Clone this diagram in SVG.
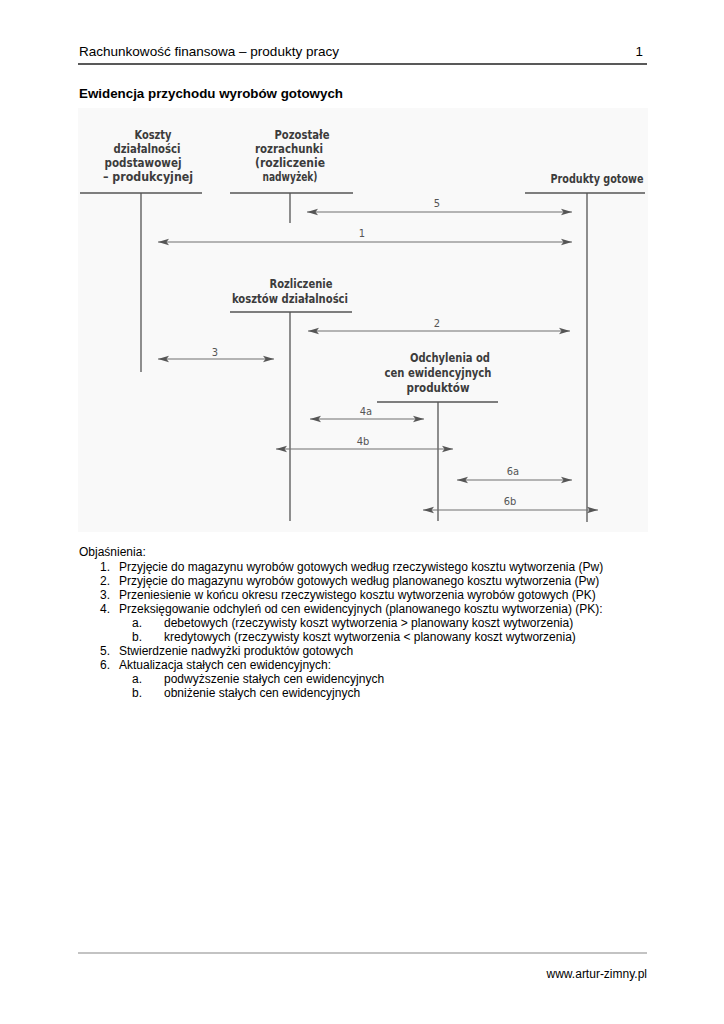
<svg xmlns="http://www.w3.org/2000/svg" width="724" height="1024" viewBox="0 0 724 1024">
<defs>
<style>
.hdr{font-family:"Liberation Sans",Arial,sans-serif;font-size:13.4px;fill:#000}
.ttl{font-family:"Liberation Sans",Arial,sans-serif;font-size:13.3px;font-weight:bold;fill:#000}
.txt{font-family:"Liberation Sans",Arial,sans-serif;font-size:12px;fill:#000}
.lbl{font-family:"Liberation Sans Narrow","DejaVu Sans Condensed","Liberation Sans",sans-serif;font-size:12.5px;font-weight:bold;fill:#3c3c3c;text-anchor:middle}
.num{font-family:"Liberation Sans Narrow","DejaVu Sans Condensed","Liberation Sans",sans-serif;font-size:11px;fill:#555;text-anchor:middle}
.acc{stroke:#555;stroke-width:1.3;fill:none}
.arr{stroke:#707070;stroke-width:1.2;fill:none;marker-start:url(#ah);marker-end:url(#ah)}
</style>
<marker id="ah" markerUnits="userSpaceOnUse" markerWidth="12" markerHeight="8" refX="11" refY="4" orient="auto-start-reverse">
<path d="M0,0.8 L11,4 L0,7.2 L2.5,4 Z" fill="#555"/>
</marker>
</defs>
<rect width="724" height="1024" fill="#fff"/>
<g id="header">
<text class="hdr" x="79" y="56" textLength="260" lengthAdjust="spacingAndGlyphs">Rachunkowość finansowa – produkty pracy</text>
<text class="hdr" x="643" y="56" text-anchor="end">1</text>
<line x1="78" y1="64" x2="647" y2="64" stroke="#222" stroke-width="1.5"/>
<text class="ttl" x="79" y="98" textLength="264" lengthAdjust="spacingAndGlyphs">Ewidencja przychodu wyrobów gotowych</text>
</g>
<rect id="scan-bg" x="78" y="108" width="570" height="424" fill="#f9f9f9"/>
<g id="koszty">
<text class="lbl" x="153" y="139" textLength="37" lengthAdjust="spacingAndGlyphs">Koszty</text>
<text class="lbl" x="147" y="153" textLength="67" lengthAdjust="spacingAndGlyphs">działalności</text>
<text class="lbl" x="143" y="167" textLength="77" lengthAdjust="spacingAndGlyphs">podstawowej</text>
<text class="lbl" x="148" y="181" textLength="90" lengthAdjust="spacingAndGlyphs">– produkcyjnej</text>
<path class="acc" d="M80,193 H202 M141,193 V372"/>
</g>
<g id="pozostale">
<text class="lbl" x="302" y="139" textLength="55" lengthAdjust="spacingAndGlyphs">Pozostałe</text>
<text class="lbl" x="289" y="153" textLength="68" lengthAdjust="spacingAndGlyphs">rozrachunki</text>
<text class="lbl" x="290" y="167" textLength="70" lengthAdjust="spacingAndGlyphs">(rozliczenie</text>
<text class="lbl" x="290" y="181" textLength="55" lengthAdjust="spacingAndGlyphs">nadwyżek)</text>
<path class="acc" d="M230,193 H353 M290,193 V223"/>
</g>
<g id="produkty">
<text class="lbl" x="597" y="183" textLength="93" lengthAdjust="spacingAndGlyphs">Produkty gotowe</text>
<path class="acc" d="M525,193 H645 M587,193 V522"/>
</g>
<g id="rozliczenie">
<text class="lbl" x="301" y="288" textLength="63" lengthAdjust="spacingAndGlyphs">Rozliczenie</text>
<text class="lbl" x="290" y="303" textLength="116" lengthAdjust="spacingAndGlyphs">kosztów działalności</text>
<path class="acc" d="M230,312 H352 M290,312 V521"/>
</g>
<g id="odchylenia">
<text class="lbl" x="450" y="362" textLength="80" lengthAdjust="spacingAndGlyphs">Odchylenia od</text>
<text class="lbl" x="438" y="377" textLength="107" lengthAdjust="spacingAndGlyphs">cen ewidencyjnych</text>
<text class="lbl" x="438" y="392" textLength="63" lengthAdjust="spacingAndGlyphs">produktów</text>
<path class="acc" d="M377,402 H498 M438,402 V521"/>
</g>
<g id="connectors">
<line class="arr" x1="307" y1="212" x2="572" y2="212"/>
<text class="num" x="437" y="207">5</text>
<line class="arr" x1="158" y1="242" x2="572" y2="242"/>
<text class="num" x="362" y="237">1</text>
<line class="arr" x1="308" y1="331" x2="570" y2="331"/>
<text class="num" x="437" y="327">2</text>
<line class="arr" x1="158" y1="359" x2="274" y2="359"/>
<text class="num" x="215" y="356">3</text>
<line class="arr" x1="310" y1="419" x2="424" y2="419"/>
<text class="num" x="366" y="415">4a</text>
<line class="arr" x1="276" y1="449" x2="453" y2="449"/>
<text class="num" x="363" y="445">4b</text>
<line class="arr" x1="457" y1="480" x2="572" y2="480"/>
<text class="num" x="513" y="475">6a</text>
<line class="arr" x1="423" y1="510" x2="598" y2="510"/>
<text class="num" x="510" y="505">6b</text>
</g>
<g id="legend">
<text class="txt" x="79" y="556">Objaśnienia:</text>
<text class="txt" x="100" y="571">1.</text><text class="txt" x="119" y="571">Przyjęcie do magazynu wyrobów gotowych według rzeczywistego kosztu wytworzenia (Pw)</text>
<text class="txt" x="100" y="585">2.</text><text class="txt" x="119" y="585">Przyjęcie do magazynu wyrobów gotowych według planowanego kosztu wytworzenia (Pw)</text>
<text class="txt" x="100" y="599">3.</text><text class="txt" x="119" y="599">Przeniesienie w końcu okresu rzeczywistego kosztu wytworzenia wyrobów gotowych (PK)</text>
<text class="txt" x="100" y="613">4.</text><text class="txt" x="119" y="613">Przeksięgowanie odchyleń od cen ewidencyjnych (planowanego kosztu wytworzenia) (PK):</text>
<text class="txt" x="132" y="627">a.</text><text class="txt" x="164" y="627">debetowych (rzeczywisty koszt wytworzenia &gt; planowany koszt wytworzenia)</text>
<text class="txt" x="132" y="641">b.</text><text class="txt" x="164" y="641">kredytowych (rzeczywisty koszt wytworzenia &lt; planowany koszt wytworzenia)</text>
<text class="txt" x="100" y="655">5.</text><text class="txt" x="119" y="655">Stwierdzenie nadwyżki produktów gotowych</text>
<text class="txt" x="100" y="669">6.</text><text class="txt" x="119" y="669">Aktualizacja stałych cen ewidencyjnych:</text>
<text class="txt" x="132" y="683">a.</text><text class="txt" x="164" y="683">podwyższenie stałych cen ewidencyjnych</text>
<text class="txt" x="132" y="697">b.</text><text class="txt" x="164" y="697">obniżenie stałych cen ewidencyjnych</text>
</g>
<g id="footer">
<line x1="78" y1="953" x2="647" y2="953" stroke="#888" stroke-width="1.2"/>
<text class="txt" x="647" y="978" text-anchor="end">www.artur-zimny.pl</text>
</g>
</svg>
